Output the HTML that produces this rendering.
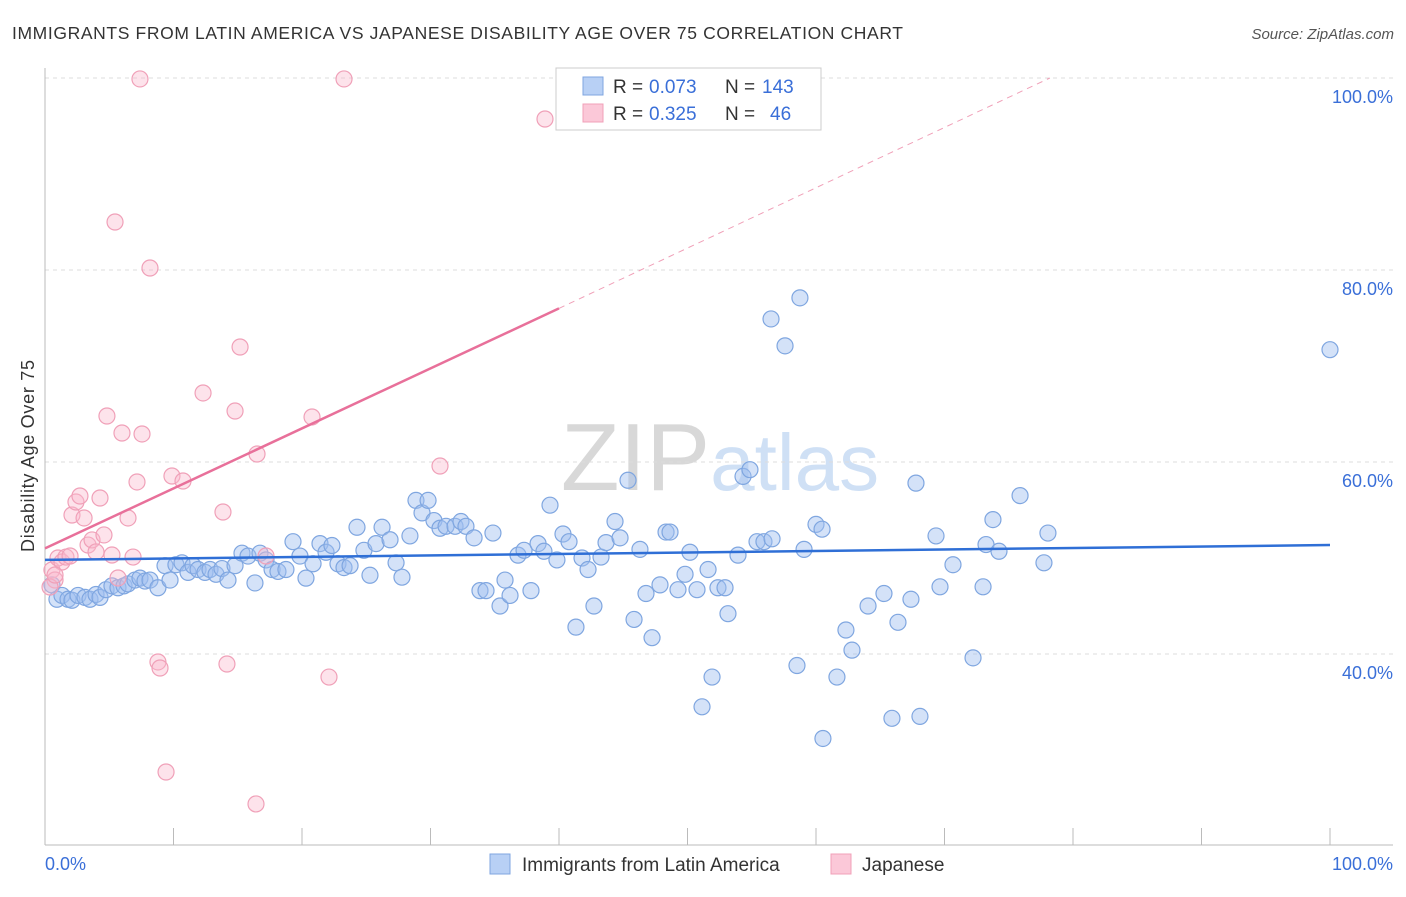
<!DOCTYPE html>
<html><head><meta charset="utf-8"><style>
body{margin:0;background:#fff;font-family:"Liberation Sans",sans-serif;}
svg text{font-family:"Liberation Sans",sans-serif;}
</style></head><body>
<svg width="1406" height="892" xmlns="http://www.w3.org/2000/svg">
<text x="12" y="39" font-size="17.5" fill="#333" textLength="891">IMMIGRANTS FROM LATIN AMERICA VS JAPANESE DISABILITY AGE OVER 75 CORRELATION CHART</text>
<text x="1394" y="39" font-size="15" fill="#555" font-style="italic" text-anchor="end">Source: ZipAtlas.com</text>
<text x="720" y="490" font-size="96" fill="#d8d8d8" text-anchor="middle" font-family="Liberation Serif">ZIP<tspan fill="#cfe0f5" font-family="Liberation Sans" font-size="80">atlas</tspan></text>
<g id="grid"></g>
<g id="axes"></g>
<g id="marks"></g>
<g id="lines"></g>
<rect x="556" y="68" width="265" height="62" fill="#fff" stroke="#ccc"/>
<rect x="583" y="77" width="20" height="18" fill="#b8d0f5" stroke="#7fa6e0"/>
<rect x="583" y="104" width="20" height="18" fill="#fbc8d8" stroke="#f0a0b8"/>
<g font-size="19" fill="#333">
<text x="613" y="93">R =</text><text x="649" y="93" fill="#3a6fd8">0.073</text><text x="725" y="93">N =</text><text x="762" y="93" fill="#3a6fd8">143</text></g>
<g font-size="19" fill="#333">
<text x="613" y="120">R =</text><text x="649" y="120" fill="#3a6fd8">0.325</text><text x="725" y="120">N =</text><text x="770" y="120" fill="#3a6fd8">46</text></g>
<rect x="490" y="854" width="20" height="20" fill="#b8d0f5" stroke="#7fa6e0"/>
<text x="522" y="871" font-size="19" fill="#333">Immigrants from Latin America</text>
<rect x="831" y="854" width="20" height="20" fill="#fbc8d8" stroke="#f0a0b8"/>
<text x="862" y="871" font-size="19" fill="#333">Japanese</text>
<text x="34" y="456" font-size="18" fill="#333" text-anchor="middle" textLength="192" transform="rotate(-90 34 456)">Disability Age Over 75</text>
<text x="45" y="870" font-size="18" fill="#3a6fd8">0.0%</text>
<text x="1393" y="870" font-size="18" fill="#3a6fd8" text-anchor="end">100.0%</text>
</svg>
<script>
const yTicks=[100,80,60,40];
const yTickLabels=["100.0%","80.0%","60.0%","40.0%"];
const xTicks=[0,10,20,30,40,50,60,70,80,90,100];
const blueX=[0.54,0.93,1.32,1.79,2.1,2.57,3.11,3.5,3.97,4.28,4.75,5.21,5.68,6.15,6.46,7,7.39,7.78,8.17,8.79,9.34,9.73,10.19,10.66,11.13,11.52,11.91,12.45,12.84,13.31,13.77,14.24,14.79,15.33,15.8,16.34,16.73,17.2,17.67,18.13,18.75,19.3,19.84,20.31,20.86,21.4,21.87,22.33,22.8,23.27,23.74,24.28,24.82,25.29,25.76,26.23,26.85,27.32,27.78,28.4,28.87,29.34,29.81,30.27,30.74,31.21,31.91,32.37,32.76,33.39,33.85,34.32,34.86,35.41,35.8,36.19,36.81,37.28,37.82,38.37,38.83,39.3,39.84,40.31,40.78,41.32,41.79,42.26,42.72,43.27,43.66,44.36,44.75,45.37,45.84,46.3,46.77,47.24,47.86,48.33,48.64,49.26,49.81,50.19,50.74,51.13,51.6,51.91,52.37,52.92,53.15,53.93,54.32,54.86,55.41,55.95,56.5,56.58,57.59,58.52,58.75,59.07,60,60.47,60.54,61.63,62.33,62.8,64.05,65.91,65.29,66.38,67.39,67.78,68.09,69.34,69.65,70.66,72.22,73,73.23,73.77,74.24,75.88,77.74,78.05,100];
const blueY=[47.2,45.7,46.1,45.7,45.6,46.1,45.9,45.7,46.2,45.9,46.7,47.1,46.9,47.1,47.3,47.7,47.9,47.6,47.7,46.9,49.2,47.7,49.3,49.5,48.5,49.2,48.8,48.5,48.8,48.3,48.9,47.7,49.2,50.5,50.2,47.4,50.5,49.8,48.8,48.6,48.8,51.7,50.2,47.9,49.4,51.5,50.6,51.3,49.4,49,49.2,53.2,50.8,48.2,51.5,53.2,51.9,49.5,48,52.3,56,54.7,56,53.9,53.1,53.3,53.3,53.8,53.3,52.1,46.6,46.6,52.6,45,47.7,46.1,50.3,50.8,46.6,51.5,50.7,55.5,49.8,52.5,51.7,42.8,50,48.8,45,50.1,51.6,53.8,52.1,58.1,43.6,50.9,46.3,41.7,47.2,52.7,52.7,46.7,48.3,50.6,46.7,34.5,48.8,37.6,46.9,46.9,44.2,50.3,58.5,59.2,51.7,51.7,74.9,52,72.1,38.8,77.1,50.9,53.5,53,31.2,37.6,42.5,40.4,45,33.3,46.3,43.3,45.7,57.8,33.5,52.3,47,49.3,39.6,47,51.4,54,50.7,56.5,49.5,52.6,71.7];
const pinkX=[0.54,0.78,1.01,1.32,1.63,1.95,2.1,2.41,2.72,3.04,3.35,3.66,3.97,4.28,4.59,4.82,5.21,5.45,5.68,5.99,6.46,6.85,7.16,7.39,7.55,8.17,8.79,8.95,9.42,9.88,10.74,12.3,13.85,14.16,14.79,15.18,16.5,16.42,17.2,20.78,22.1,23.27,30.74,38.91,0.39,0.78];
const pinkY=[48.75,47.71,50,49.58,50.1,50.21,54.48,55.83,56.46,54.17,51.35,51.88,50.63,56.25,52.4,64.79,50.31,85,47.92,63.02,54.17,50.1,57.92,99.9,62.92,80.21,39.17,38.54,27.71,58.54,58.02,67.19,54.79,38.96,65.31,71.98,60.83,24.38,50.21,64.69,37.6,99.9,59.58,95.73,46.98,48.23];
const blueLine=[49.8,51.35];
const pinkLine=[51.0,76.0,100];
const NS="http://www.w3.org/2000/svg";
const X=v=>45+v*12.85, Y=v=>78+(100-v)*9.6;
function mk(t,a,p){const e=document.createElementNS(NS,t);for(const k in a)e.setAttribute(k,a[k]);document.getElementById(p).appendChild(e);return e;}
yTicks.forEach((t,i)=>{
 const g=mk('line',{x1:45,x2:1393,y1:Y(t),y2:Y(t),stroke:'#ddd','stroke-dasharray':'4,4'},'grid');
 
 
 const l=mk('text',{x:1393,y:Y(t)+25,'font-size':18,fill:'#3a6fd8','text-anchor':'end'},'grid');
 l.textContent=yTickLabels[i];
 
 
});
const ax=mk('line',{x1:45,x2:45,y1:68,y2:845,stroke:'#bbb'},'axes');


const bx=mk('line',{x1:45,x2:1393,y1:845,y2:845,stroke:'#bbb'},'axes');


xTicks.forEach(t=>{const e=mk('line',{x1:X(t),x2:X(t),y1:828,y2:845,stroke:'#bbb'},'axes');
 
 });
blueX.forEach((x,i)=>{const c=mk('circle',{cx:X(x),cy:Y(blueY[i]),r:8,fill:'rgba(160,190,240,0.45)',stroke:'#7fa6e0','stroke-width':1.2},'marks');
 
 });
pinkX.forEach((x,i)=>{const c=mk('circle',{cx:X(x),cy:Y(pinkY[i]),r:8,fill:'rgba(250,185,205,0.4)',stroke:'#f0a0b8','stroke-width':1.2},'marks');
 
 });
const bl=mk('line',{x1:X(0),y1:Y(blueLine[0]),x2:X(100),y2:Y(blueLine[1]),stroke:'#2f6fd6','stroke-width':2.5},'lines');


const pl=mk('line',{x1:X(0),y1:Y(pinkLine[0]),x2:X(40),y2:Y(pinkLine[1]),stroke:'#e8709a','stroke-width':2.5},'lines');


const pd=mk('line',{x1:X(40),y1:Y(pinkLine[1]),x2:X(78.2),y2:Y(pinkLine[2]),stroke:'#f0a0b8','stroke-width':1,'stroke-dasharray':'6,5'},'lines');


</script>
</body></html>
